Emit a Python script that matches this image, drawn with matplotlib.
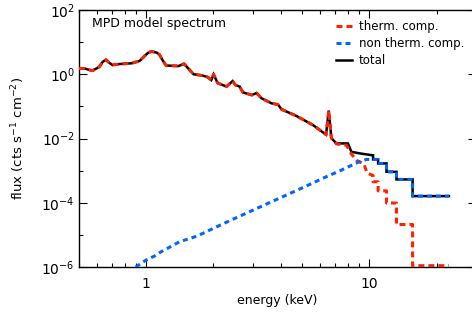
import numpy as np
import matplotlib
matplotlib.use("Agg")
import matplotlib.pyplot as plt
from matplotlib.ticker import FixedLocator, FixedFormatter, NullFormatter

plt.rcParams['font.family'] = ['DejaVu Sans']
plt.rcParams['lines.scale_dashes'] = False
plt.rcParams['mathtext.fontset'] = 'dejavusans'

# ---------------- data (energy in keV, flux in cts s^-1 cm^-2) ----------------
# fine-grid part of the thermal model (identical to total below ~6.8 keV)
e_line = [0.50, 0.529, 0.574, 0.617, 0.637, 0.660, 0.681, 0.706, 0.759, 0.859,
          0.933, 0.983, 1.021, 1.056, 1.116, 1.147, 1.183, 1.227, 1.396, 1.477,
          1.630, 1.788, 1.883, 1.956, 2.004, 2.089, 2.291, 2.438, 2.510, 2.620,
          2.710, 2.970, 3.120, 3.290, 3.650, 3.890, 4.040, 4.720, 5.590, 6.390,
          6.570, 6.750]
f_line = [1.51, 1.51, 1.29, 1.71, 2.40, 2.83, 2.31, 1.94, 2.08, 2.19,
          2.58, 3.69, 4.68, 5.16, 4.68, 4.05, 2.77, 1.87, 1.80, 2.12,
          1.00, 0.911, 0.818, 0.659, 0.993, 0.532, 0.414, 0.614, 0.461, 0.414,
          0.273, 0.225, 0.260, 0.177, 0.124, 0.114, 0.0807, 0.0499, 0.0261, 0.0132,
          0.074, 0.0103]

# total: 6.8 - 10.4 keV, then coarse bins
e_total_mid = [7.11, 8.01, 8.30, 9.05, 10.20, 10.38]
f_total_mid = [7.03e-3, 7.03e-3, 3.85e-3, 3.44e-3, 3.04e-3, 3.00e-3]
total_edges = [10.38, 10.93, 11.92, 13.21, 15.6, 22.7]
total_bins = [2.23e-3, 1.675e-3, 9.18e-4, 5.32e-4, 1.61e-4]

# thermal component: 6.8 - 10.4 keV, then coarse bins
e_therm_mid = [7.11, 7.88, 8.30, 8.75, 9.45, 9.75, 10.38]
f_therm_mid = [6.8e-3, 6.2e-3, 3.3e-3, 2.1e-3, 1.6e-3, 8.5e-4, 7.0e-4]
therm_edges = [10.38, 10.93, 11.92, 13.21, 15.6, 22.7]
therm_bins = [4.5e-4, 2.35e-4, 9.8e-5, 2.1e-5, 1.1e-6]

# non-thermal component
e_nonth = [0.898, 0.996, 1.086, 1.163, 1.281, 1.406, 1.532, 1.698, 2.018, 2.395,
           2.897, 3.50, 4.334, 5.197, 6.304, 7.49, 8.98, 9.70, 10.93]
f_nonth = [1.0e-6, 1.63e-6, 2.17e-6, 2.95e-6, 4.23e-6, 6.05e-6, 7.35e-6, 9.3e-6,
           1.65e-5, 2.87e-5, 5.21e-5, 9.5e-5, 1.85e-4, 3.29e-4, 6.14e-4, 1.04e-3,
           1.88e-3, 2.23e-3, 2.23e-3]
nonth_edges = [10.93, 11.92, 13.21, 15.6, 22.7]
nonth_bins = [1.675e-3, 9.18e-4, 5.32e-4, 1.61e-4]

series_labels = ['therm. comp.', 'non therm. comp.', 'total']
xtick_vals = [1, 10]
xtick_labels = ['1', '10']
ytick_major = [1e-6, 1e-4, 1e-2, 1e0, 1e2]
ytick_minor = [1e-5, 1e-3, 1e-1, 1e1]


def build(e_pts, f_pts, edges, vals):
    xs = list(e_pts) + list(np.repeat(edges, 2)[1:-1])
    ys = list(f_pts) + list(np.repeat(vals, 2))
    return xs, ys


W, H = 472, 315
fig = plt.figure(figsize=(W / 100, H / 100), dpi=100)
ax = fig.add_axes([79 / W, 48 / H, (476 - 79) / W, (267 - 10) / H])
ax.set_xscale('log')
ax.set_yscale('log')
ax.set_xlim(0.5, 30)
ax.set_ylim(1e-6, 1e2)

red = '#ff2200'
blue = '#0066ff'

tx, ty = build(e_line + e_total_mid, f_line + f_total_mid, total_edges, total_bins)
rx, ry = build(e_line + e_therm_mid, f_line + f_therm_mid, therm_edges, therm_bins)
bx, by = build(e_nonth, f_nonth, nonth_edges, nonth_bins)

l_tot, = ax.plot(tx, ty, color='black', lw=1.8, zorder=2, solid_joinstyle='miter')
l_th, = ax.plot(rx, ry, color=red, lw=2.2, zorder=3, dashes=(4.3, 2.9))
l_nt, = ax.plot(bx, by, color=blue, lw=2.2, zorder=4, dashes=(3.6, 2.9))

# axes styling
for s in ax.spines.values():
    s.set_linewidth(1.0)
ax.xaxis.set_major_locator(FixedLocator(xtick_vals))
ax.xaxis.set_major_formatter(FixedFormatter(xtick_labels))
ax.xaxis.set_minor_formatter(NullFormatter())
ax.yaxis.set_major_locator(FixedLocator(ytick_major))
ax.yaxis.set_minor_locator(FixedLocator(ytick_minor))
ax.yaxis.set_minor_formatter(NullFormatter())
ax.tick_params(which='both', direction='in', top=True, right=True, width=0.8)
ax.tick_params(which='major', length=5.5, labelsize=10)
ax.tick_params(which='minor', length=2.8)
ax.tick_params(axis='x', which='major', pad=7)
ax.tick_params(axis='y', which='major', pad=3)

ax.set_xlabel('energy (keV)', fontsize=9)
ax.xaxis.set_label_coords(0.5, -(294 - 267) / 257)
ax.set_ylabel(r'flux (cts s$^{-1}$ cm$^{-2}$)', fontsize=9.5)
ax.yaxis.set_label_coords(-(79 - 27) / 397, 0.5)

fig.text(92 / W, 1 - 24 / H, 'MPD model spectrum', fontsize=9, va='center', ha='left')

leg = ax.legend([l_th, l_nt, l_tot], series_labels, loc='upper left',
                bbox_to_anchor=(336 / W, 1 - 20 / H), bbox_transform=fig.transFigure,
                frameon=False, fontsize=8.5, borderpad=0, borderaxespad=0,
                handlelength=1.36, handletextpad=0.6, labelspacing=0.35)

fig.savefig('out.png', dpi=100)
